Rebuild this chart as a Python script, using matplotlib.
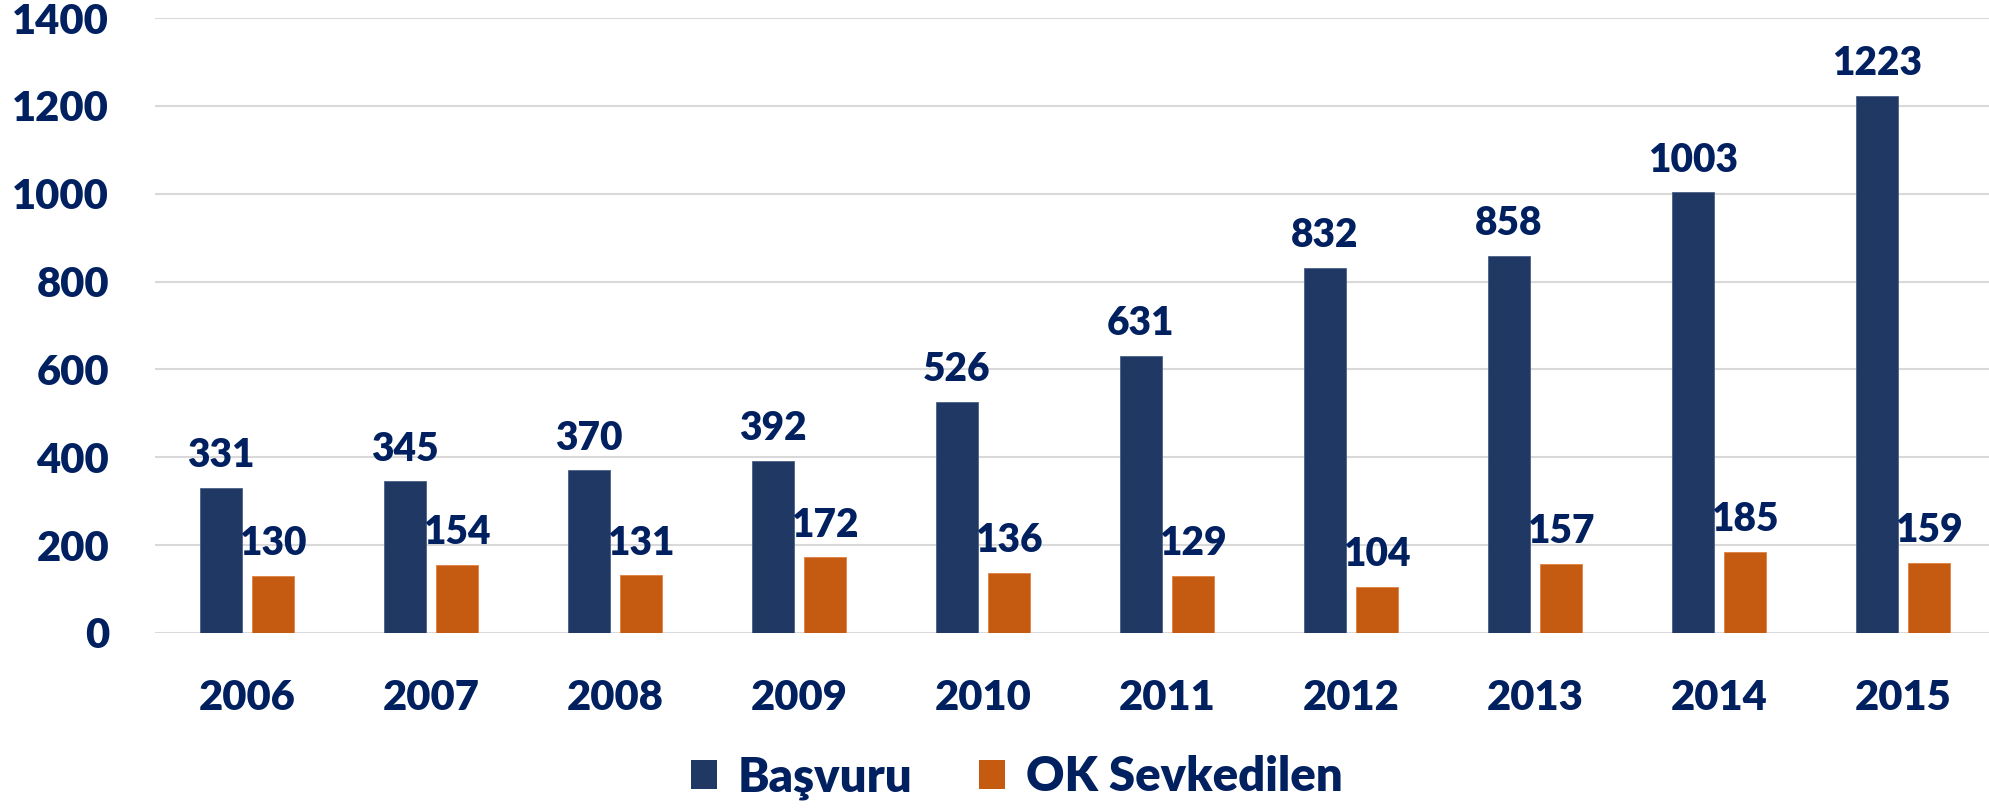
import numpy as np
import matplotlib
matplotlib.use('Agg')
import matplotlib.pyplot as plt
from matplotlib.patches import Patch

years = ['2006', '2007', '2008', '2009', '2010', '2011', '2012', '2013', '2014', '2015']
basvuru = [331, 345, 370, 392, 526, 631, 832, 858, 1003, 1223]
sevkedilen = [130, 154, 131, 172, 136, 129, 104, 157, 185, 159]
series_names = ['Başvuru', 'OK Sevkedilen']
yticks = [0, 200, 400, 600, 800, 1000, 1200, 1400]

BLUE = '#203864'
ORANGE = '#C55A11'
TEXT = '#002060'
GRID = '#D9D9D9'

plt.rcParams['font.family'] = ['Lato', 'DejaVu Sans']
plt.rcParams['font.weight'] = 'bold'

W, H = 1990, 808
fig = plt.figure(figsize=(W / 100, H / 100), dpi=100)
ax = fig.add_axes([155 / W, 1 - 633 / H, 1840 / W, (633 - 18) / H])

x = np.arange(len(years))
width = 0.228
offset = 0.143
bars1 = ax.bar(x - offset, basvuru, width, color=BLUE, edgecolor='#4a5f88', linewidth=0.6, zorder=3)
bars2 = ax.bar(x + offset, sevkedilen, width, color=ORANGE, edgecolor='#e08040', linewidth=0.6, zorder=3)

for bars, vals in ((bars1, basvuru), (bars2, sevkedilen)):
    for b, v in zip(bars, vals):
        ax.annotate(str(v), (b.get_x() + b.get_width() / 2, v), xytext=(0, 10),
                    textcoords='offset points', ha='center', va='bottom',
                    fontsize=28, fontweight='heavy', color=TEXT)

ax.set_xlim(-0.5, len(years) - 0.5)
ax.set_ylim(0, 1400)
ax.set_yticks(yticks)
ax.set_xticks(x)
ax.set_xticklabels(years)
ax.tick_params(axis='both', length=0, colors=TEXT, labelsize=30)
ax.tick_params(axis='y', pad=33)
ax.tick_params(axis='x', pad=33)
for lbl in ax.get_xticklabels() + ax.get_yticklabels():
    lbl.set_fontweight('heavy')

ax.yaxis.grid(True, color=GRID, linewidth=1.5, zorder=0)
ax.set_axisbelow(True)
for s in ax.spines.values():
    s.set_visible(False)

handles = [Patch(facecolor=BLUE), Patch(facecolor=ORANGE)]
leg = fig.legend(handles, series_names, loc='center', bbox_to_anchor=(0.511, 0.038),
                 ncol=2, frameon=False, fontsize=34, handlelength=0.55, handleheight=0.55,
                 handletextpad=0.45, columnspacing=1.4)
for t in leg.get_texts():
    t.set_color(TEXT)
    t.set_fontweight('heavy')

fig.savefig('out.png', dpi=100)
